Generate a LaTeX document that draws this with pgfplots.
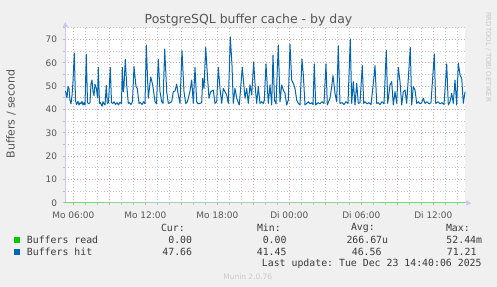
\documentclass[border=0pt]{standalone}
\usepackage{pgfplots}
\pgfplotsset{compat=1.18}
\usepackage{fontspec}
\setmainfont{DejaVu Sans}
\setmonofont{DejaVu Sans Mono}
\usetikzlibrary{arrows.meta}
\definecolor{bg}{HTML}{F0F0F0}
\definecolor{majgrid}{HTML}{E07878}
\definecolor{mingrid}{HTML}{A8A8A8}
\definecolor{axcol}{HTML}{C8C8F0}
\definecolor{txt}{HTML}{555555}
\definecolor{legtxt}{HTML}{3A3A3A}
\definecolor{faint}{HTML}{C8C8C8}
\definecolor{hitblue}{HTML}{0066B3}
\definecolor{readgreen}{HTML}{00CC00}
\begin{document}
\begin{tikzpicture}
\fill[bg] (0,0) rectangle (497bp,287bp);
\fill[white] (65.3bp,84bp) rectangle (465.3bp,259bp);
\begin{axis}[
  at={(65.3bp,84bp)}, anchor=south west,
  scale only axis, width=400bp, height=175bp,
  xmin=5.3333, xmax=38.6667, ymin=0, ymax=75,
  clip=false,
  axis x line=bottom, axis y line=left,
  x axis line style={axcol, line width=1bp, -{Triangle[width=5bp,length=5bp]}, shorten >=-6bp},
  y axis line style={axcol, line width=1bp, -{Triangle[width=5bp,length=5bp]}, shorten >=-6bp},
  xtick={6,9,...,36},
  xticklabels={Mo 06:00,,Mo 12:00,,Mo 18:00,,Di 00:00,,Di 06:00,,Di 12:00},
  minor xtick={7,8,10,11,13,14,16,17,19,20,22,23,25,26,28,29,31,32,34,35,37,38},
  ytick={0,10,...,70},
  minor ytick={5,15,...,75},
  grid=both,
  major grid style={majgrid!70, line width=1bp, dash pattern=on 1bp off 2bp},
  minor grid style={mingrid!70, line width=1bp, dash pattern=on 1bp off 2bp},
  tick align=outside,
  major tick length=2.5bp, minor tick length=2bp,
  major tick style={majgrid!70, line width=1bp},
  minor tick style={mingrid!70, line width=1bp},
  ticklabel style={font=\fontsize{9}{10}\selectfont, text=txt},
  xticklabel style={anchor=base, yshift=-12.6bp},
  yticklabel style={anchor=east, xshift=-2.3bp},
  /pgf/number format/assume math mode=true,
]
\addplot[hitblue, line width=1bp, line join=round] coordinates {
(5.35,48) (5.475,45) (5.558,50) (5.642,49) (5.725,44) (5.808,42.5) (5.892,46) (5.975,52)
(6.083,64.2) (6.183,44) (6.267,42.2) (6.392,43.5) (6.475,42) (6.558,43) (6.642,42.5) (6.725,43.5)
(6.808,42) (6.892,43) (6.975,42) (7.083,63.7) (7.183,43) (7.308,42.5) (7.392,43) (7.475,51)
(7.558,52.7) (7.642,47.7) (7.725,46) (7.808,50.9) (7.933,49) (8.017,45) (8.083,58.1) (8.183,42.7)
(8.267,43) (8.392,41.45) (8.475,43.4) (8.558,42.5) (8.642,42) (8.75,50.4) (8.833,42.7) (8.933,43)
(9.083,58.1) (9.183,43) (9.308,42.7) (9.392,43.4) (9.517,42.2) (9.642,43) (9.767,42) (9.892,43.2)
(10.017,42.5) (10.083,58.1) (10.167,47.7) (10.225,50) (10.333,61.6) (10.45,50.6) (10.583,42.7) (10.683,43)
(10.808,42.2) (10.933,43.5) (11.058,58.5) (11.225,49.9) (11.333,49.1) (11.475,42.7) (11.6,43) (11.725,42.2)
(11.85,43.4) (11.975,42.5) (12.083,67.7) (12.25,44.9) (12.45,54) (12.617,50.6) (12.808,43.4) (12.933,42.5)
(13.083,61.6) (13.225,47.7) (13.367,43.4) (13.475,42.7) (13.617,66) (13.783,47.7) (13.917,42.7) (14.058,43)
(14.2,43.4) (14.333,47.7) (14.475,48) (14.617,50.9) (14.75,46.3) (14.892,42.7) (15.058,65.3) (15.225,47.7)
(15.367,42.7) (15.475,43) (15.583,44.9) (15.725,48) (15.867,52.7) (16,42.7) (16.142,58.1) (16.283,43.4)
(16.392,42.5) (16.558,42.7) (16.7,43) (16.783,53.4) (16.892,49.1) (17.033,66.7) (17.2,52.7) (17.308,44.9)
(17.45,47.7) (17.667,48.4) (17.808,42.7) (17.95,43.4) (18.083,58.1) (18.225,49.1) (18.367,42.7) (18.5,49.1)
(18.783,46.3) (18.917,42.7) (19.083,71.21) (19.225,59) (19.333,42.7) (19.475,49.1) (19.617,44.9) (19.833,42)
(20.083,58.1) (20.308,44.9) (20.45,49.1) (20.583,42.7) (20.725,50.6) (20.867,46.3) (21.033,60.3) (21.167,49.1)
(21.283,42.7) (21.417,49.9) (21.558,42.7) (21.7,43.4) (21.833,42.7) (21.917,44) (22.058,59.6) (22.25,42.7)
(22.392,50.6) (22.533,42) (22.642,63.4) (22.767,44) (22.892,42.5) (23.083,67.7) (23.225,43.4) (23.367,50.6)
(23.5,48.4) (23.642,47) (23.783,42) (23.917,44.1) (24.058,68.1) (24.2,52.7) (24.333,51.3) (24.475,49.1)
(24.617,44.1) (24.75,42.7) (24.892,42) (25.058,61.7) (25.167,54.9) (25.308,42) (25.45,42.7) (25.583,43.4)
(25.725,42.5) (25.867,43) (25.975,42.2) (26.083,59.6) (26.2,42) (26.392,43) (26.558,42.5) (26.725,43.4)
(26.892,42.7) (27.058,59.6) (27.167,42) (27.392,44.9) (27.533,49.9) (27.642,54.6) (27.808,47) (27.95,43.4)
(28.083,67.4) (28.225,42.7) (28.392,43) (28.558,42.2) (28.725,43.4) (28.892,42.7) (29.083,70.3) (29.2,42.7)
(29.333,52) (29.475,42) (29.617,51.3) (29.75,42.7) (29.892,43) (30.083,58.9) (30.2,42.7) (30.308,43.4)
(30.475,42.5) (30.642,43) (30.808,42.2) (31,51.3) (31.142,58.9) (31.283,42.7) (31.417,43) (31.558,42.2)
(31.725,43.4) (31.892,42.5) (32.083,65.4) (32.2,42.7) (32.392,50.6) (32.533,52) (32.667,42) (32.808,47.7)
(32.95,42.7) (33.083,58.1) (33.225,52) (33.367,42) (33.5,47.7) (33.642,48.4) (33.783,42.7) (34.083,66.7)
(34.2,42) (34.333,49.9) (34.475,48.4) (34.617,42.7) (34.75,43.4) (34.892,42.5) (35.033,43) (35.167,44.9)
(35.308,42.7) (35.475,43.4) (35.642,42.5) (35.808,43) (36.083,63.9) (36.2,42.7) (36.392,43.4) (36.558,42.5)
(36.725,43) (36.892,42.2) (37.117,59.6) (37.25,42) (37.392,43.4) (37.533,47) (37.667,42.7) (37.808,52.7)
(37.95,42) (38.083,59.9) (38.225,54.9) (38.367,53.4) (38.5,42.7) (38.642,47.66)
};
\addplot[readgreen!60!white, line width=1bp] coordinates {(5.3333,0) (12,0) (24,0) (38.6667,0)};
\end{axis}
% title and labels
\node[anchor=base, text=txt, font=\fontsize{12.5}{14}\selectfont] at (248.5bp,263bp) {PostgreSQL buffer cache - by day};
\node[rotate=90, text=txt, font=\fontsize{11}{12}\selectfont] at (11bp,173bp) {Buffers / second};
\node[rotate=-90, text=faint, font=\fontsize{7}{8}\selectfont] at (488.5bp,230bp) {RRDTOOL / TOBI OETIKER};
% legend
\begin{scope}[every node/.style={inner sep=0pt, text=legtxt, font=\ttfamily\fontsize{9.9}{11}\selectfont}]
\node[anchor=east] at (185bp,59.3bp) {Cur:};
\node[anchor=east] at (281bp,59.3bp) {Min:};
\node[anchor=east] at (375bp,59.3bp) {Avg:};
\node[anchor=east] at (470bp,59.3bp) {Max:};
\fill[readgreen] (14bp,44bp) rectangle (20bp,50bp);
\node[anchor=west] at (26.7bp,47bp) {Buffers read};
\node[anchor=east] at (192.3bp,47bp) {0.00};
\node[anchor=east] at (286.7bp,47bp) {0.00};
\node[anchor=east] at (388.3bp,47bp) {266.67u};
\node[anchor=east] at (482.3bp,47bp) {52.44m};
\fill[hitblue] (14bp,32.3bp) rectangle (20bp,38.3bp);
\node[anchor=west] at (26.7bp,35.3bp) {Buffers hit};
\node[anchor=east] at (192.3bp,35.3bp) {47.66};
\node[anchor=east] at (286.7bp,35.3bp) {41.45};
\node[anchor=east] at (381.7bp,35.3bp) {46.56};
\node[anchor=east] at (476.7bp,35.3bp) {71.21};
\node[anchor=west] at (261.7bp,23.7bp) {Last update: Tue Dec 23 14:40:06 2025};
\end{scope}
\node[text=faint, font=\fontsize{7.5}{8}\selectfont] at (247.8bp,10.3bp) {Munin 2.0.76};
\pgfresetboundingbox
\useasboundingbox (0,0) rectangle (497bp,287bp);
\end{tikzpicture}
\end{document}
